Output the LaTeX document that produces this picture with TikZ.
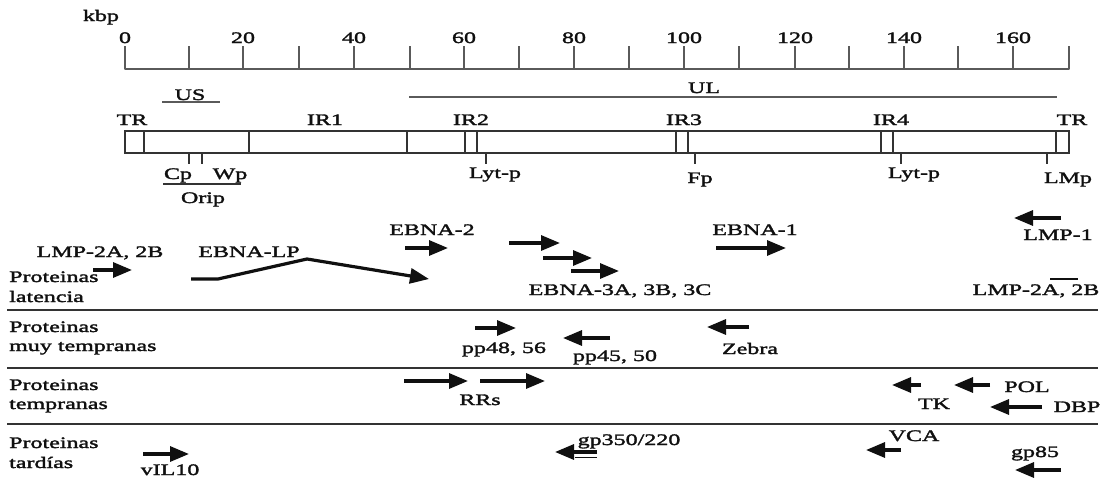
\documentclass[tikz,border=0pt]{standalone}
\usepackage{fontspec}
\setmainfont{Liberation Serif}[FakeStretch=1.5,FakeBold=2]
\usetikzlibrary{arrows.meta}
\definecolor{ink}{HTML}{101010}
\definecolor{scalegray}{HTML}{5A5A5A}
\definecolor{boxgray}{HTML}{333333}
\tikzset{
  lbl/.style={anchor=base,inner sep=0pt,text=ink,font=\fontsize{16}{20}\selectfont},
  lblw/.style={lbl,anchor=base west},
  gene/.style={line width=3.2pt,draw=ink,-{Triangle[length=19pt,width=15pt]}},
  scaleline/.style={line width=2pt,draw=scalegray},
  boxline/.style={line width=1.8pt,draw=boxgray},
  sep/.style={line width=1.8pt,draw=boxgray}
}
\begin{document}
\begin{tikzpicture}[x=1pt,y=-1pt]
\useasboundingbox (0,0) rectangle (1104,477);
% ---------- kbp scale ----------
\node[lbl] (kbp) at (101,21) {kbp};
\draw[scaleline,line join=round] (125,46) -- (125,69) -- (1069,69) -- (1069,46);
\foreach \t in {189,243,299,354,410,464,519,574,629,684,739,795,849,904,958,1013}
  \draw[scaleline] (\t,46) -- (\t,69);
\foreach \t/\v [count=\i] in {125/0,243/20,354/40,464/60,574/80,684/100,795/120,904/140,1013/160}
  \node[lbl] (tick\i) at (\t,43) {\v};
% ---------- US / UL ----------
\node[lbl] (US) at (190,100) {US};
\draw[scaleline,line width=1.5pt] (162,102) -- (220,102);
\node[lbl] (UL) at (704,93) {UL};
\draw[scaleline] (409,97) -- (1057,97);
% ---------- genome box ----------
\draw[boxline] (125,131) rectangle (1069,153);
\foreach \d in {144,249,407,465,477,676,688,881,893,1056}
  \draw[boxline] (\d,131) -- (\d,153);
\node[lbl] (TRl) at (132,125) {TR};
\node[lbl] (IR1) at (325,125) {IR1};
\node[lbl] (IR2) at (471,125) {IR2};
\node[lbl] (IR3) at (684,125) {IR3};
\node[lbl] (IR4) at (891,125) {IR4};
\node[lbl] (TRr) at (1072,125) {TR};
% promoters
\draw[boxline] (189,153) -- (189,164);
\draw[boxline] (202,153) -- (202,164);
\node[lbl] (Cp) at (178,179) {Cp};
\node[lbl] (Wp) at (230,179) {Wp};
\draw[boxline,line width=1.4pt] (163,184) -- (241,184);
\node[lbl] (Orip) at (203,203) {Orip};
\draw[boxline] (486,153) -- (486,164);
\node[lbl] (Lyt1) at (495,178) {Lyt-p};
\draw[boxline] (695,153) -- (695,164);
\node[lbl] (Fp) at (700,183) {Fp};
\draw[boxline] (901,153) -- (901,164);
\node[lbl] (Lyt2) at (914,178) {Lyt-p};
\draw[boxline] (1047,153) -- (1047,164);
\node[lbl] (LMp) at (1068,183) {LMp};
% ---------- latency proteins ----------
\node[lblw] (P1a) at (9,282) {Proteinas};
\node[lblw] (P1b) at (9,302) {latencia};
\node[lbl] (LMP2A) at (100,257) {LMP-2A, 2B};
\draw[gene] (93,270) -- (132,270);
\node[lbl] (EBNALP) at (249,257) {EBNA-LP};
\draw[gene,line join=round] (191,279) -- (218,279) -- (307,259) -- (429,279);
\node[lbl] (EBNA2) at (432,235) {EBNA-2};
\draw[gene] (405,248) -- (448,248);
\draw[gene] (509,243) -- (560,243);
\draw[gene] (543,258) -- (592,258);
\draw[gene] (571,271) -- (619,271);
\node[lbl] (EBNA3) at (620,295) {EBNA-3A, 3B, 3C};
\node[lbl] (EBNA1) at (755,235) {EBNA-1};
\draw[gene] (716,248) -- (786,248);
\draw[gene] (1061,218) -- (1014,218);
\node[lbl] (LMP1) at (1058,240) {LMP-1};
\draw[ink,line width=1.6pt] (1050,279) -- (1078,279);
\node[lbl] (LMP2Ar) at (1036,295) {LMP-2A, 2B};
\draw[sep] (7,310) -- (1098,310);
% ---------- very early ----------
\node[lblw] (P2a) at (9,332) {Proteinas};
\node[lblw] (P2b) at (9,351) {muy tempranas};
\draw[gene] (475,328) -- (516,328);
\node[lbl] (pp48) at (504,353) {pp48, 56};
\draw[gene] (610,338) -- (563,338);
\node[lbl] (pp45) at (615,361) {pp45, 50};
\draw[gene] (749,327) -- (707,327);
\node[lbl] (Zebra) at (750,354) {Zebra};
\draw[sep] (7,368) -- (1098,368);
% ---------- early ----------
\node[lblw] (P3a) at (9,390) {Proteinas};
\node[lblw] (P3b) at (9,409) {tempranas};
\draw[gene] (404,381) -- (468,381);
\draw[gene] (480,381) -- (545,381);
\node[lbl] (RRs) at (480,405) {RRs};
\draw[gene] (921,385) -- (892,385);
\node[lbl] (TK) at (934,409) {TK};
\draw[gene] (990,385) -- (954,385);
\node[lbl] (POL) at (1027,392) {POL};
\draw[gene] (1042,407) -- (990,407);
\node[lbl] (DBP) at (1077,412) {DBP};
\draw[sep] (7,424) -- (1098,424);
% ---------- late ----------
\node[lblw] (P4a) at (9,448) {Proteinas};
\node[lblw] (P4b) at (9,468) {tard\'ias};
\draw[gene] (143,454) -- (189,454);
\node[lbl] (vIL) at (170,475) {vIL10};
\draw[gene] (597,452) -- (555,452);
\draw[ink,line width=1.6pt] (575,457.5) -- (597,457.5);
\node[lbl] (gp350) at (629,445) {gp350/220};
\draw[gene] (901,450) -- (866,450);
\node[lbl] (VCA) at (914,441) {VCA};
\node[lbl] (gp85) at (1035,457) {gp85};
\draw[gene] (1061,470) -- (1015,470);
\end{tikzpicture}
\end{document}
